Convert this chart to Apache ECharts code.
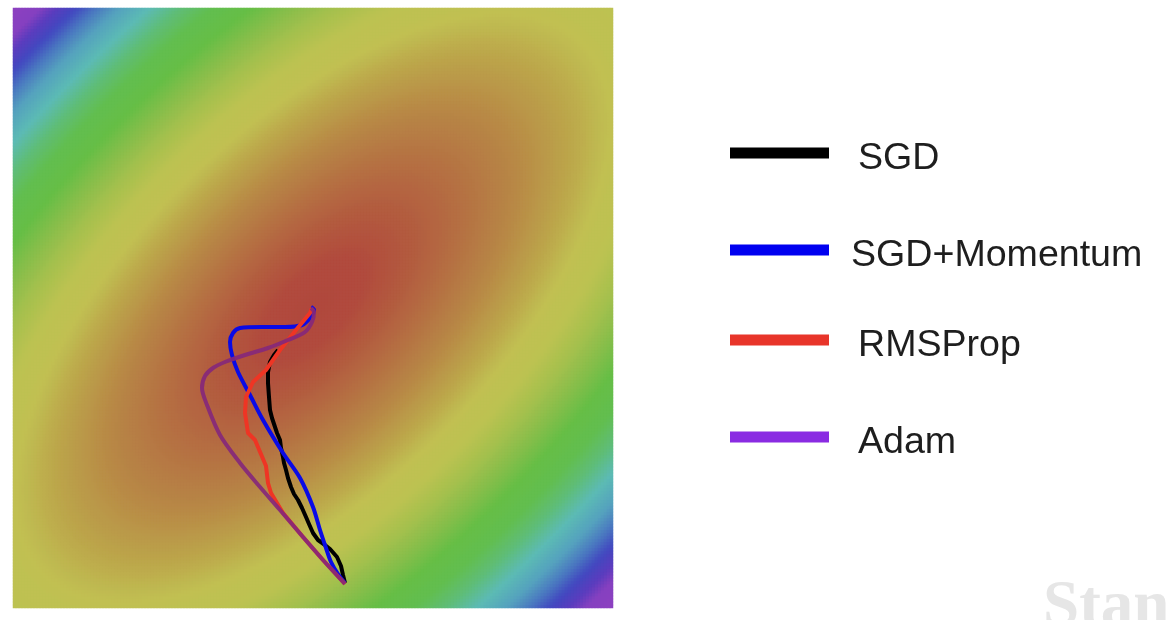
<!DOCTYPE html>
<html>
<head>
<meta charset="utf-8">
<script src="https://cdn.jsdelivr.net/npm/echarts@6/dist/echarts.min.js"></script>
<style>
html,body{margin:0;padding:0;background:#fff;}
#chart{width:1170px;height:620px;}
</style>
</head>
<body>
<div id="chart"></div>
<script>
// ---- data (plot units: 0..600 on both axes, y upward) ----
const seriesNames = ['SGD', 'SGD+Momentum', 'RMSProp', 'Adam'];

const sgdPath = [[332,25],[330,33],[328,42],[324,51],[317,59],[312,63],[305,68],[300,75],[296,84],[293,91],[289,100],[285,108],[281,114],[278,121],[275,130],[273,138],[271,145],[270,151],[268,160],[267,168],[264,175],[262,181],[259,190],[257,198],[256,211],[255,225],[255,236],[257,246],[261,253],[265,258]];

const momentumPath = [[332,25],[325,34],[318,46],[313,60],[307,78],[300,101],[287,130],[270,155],[250,188],[237,213],[225,236],[219,253],[217,266],[220,275],[227,280],[249,281],[272,281],[289,283],[297,290],[301,298],[298,301]];

const rmspropPath = [[332,24],[310,48],[290,71],[270,95],[258,115],[255,125],[253,142],[242,168],[235,175],[232,195],[233,211],[240,226],[253,238],[267,258],[283,278],[297,295],[299,300]];

const adamPath = [[332,24],[310,48],[290,71],[267,98],[247,121],[227,145],[207,173],[194,203],[189,220],[192,232],[200,240],[212,246],[232,253],[255,260],[275,268],[292,276],[299,286],[301,296],[298,300]];

// loss surface: minimum location and quadratic coefficients
const surfaceCenter = [300, 300];
const surfaceCoef = [1.0, -1.277, 1.02]; // a*dx^2 + b*dx*dy + c*dy^2
const surfaceCells = 200;

// colour scale of the surface (level -> colour)
const levelStops = [0, 40, 80, 120, 160, 200, 230, 260, 290, 320, 345, 375, 400, 425, 450, 470, 488, 505, 520, 600];
const levelColors = ['#b0473d','#b14b3e','#b35d3f','#b57343','#b88a46','#bca74b','#c1c052','#bcc251','#a4c04d','#84be4a','#66be46','#62be50','#5fbd78','#5cbbb4','#55a2be','#4a78c0','#4248c0','#5a3dbe','#8540c0','#a040c0'];

// ---- build ----
function hex(c){return [parseInt(c.slice(1,3),16),parseInt(c.slice(3,5),16),parseInt(c.slice(5,7),16)];}
function colorAt(v){
  for(let i=0;i<levelStops.length-1;i++){
    if(v<=levelStops[i+1]){
      const t=(v-levelStops[i])/(levelStops[i+1]-levelStops[i]);
      const a=hex(levelColors[i]), b=hex(levelColors[i+1]);
      return 'rgb('+a.map((x,k)=>Math.round(x+(b[k]-x)*t)).join(',')+')';
    }
  }
  return levelColors[levelColors.length-1];
}
const scaleColors=[];
for(let v=0;v<=600;v+=5) scaleColors.push(colorAt(v));

const cellIdx=[]; for(let i=0;i<surfaceCells;i++) cellIdx.push(i);
const surface=[];
const step=600/surfaceCells;
for(let i=0;i<surfaceCells;i++){
  for(let j=0;j<surfaceCells;j++){
    const dx=(i+0.5)*step-surfaceCenter[0];
    const dy=(j+0.5)*step-surfaceCenter[1];
    const f=surfaceCoef[0]*dx*dx+surfaceCoef[1]*dx*dy+surfaceCoef[2]*dy*dy;
    surface.push([i,j,Math.sqrt(Math.max(f,0))]);
  }
}

const lineColors = ['#000000','#0a0ae6','#ee3524','#86287a'];
const legendColors = ['#000000','#0000f0','#e8352a','#8a2be2'];
const paths = [sgdPath, momentumPath, rmspropPath, adamPath];
const legendTops = [140, 237, 327, 424];
const textPads = [24, 17, 24, 24];

const chart = echarts.init(document.getElementById('chart'));
chart.setOption({
  animation:false,
  backgroundColor:'#ffffff',
  grid:{left:13, top:8, width:600, height:600, containLabel:false},
  xAxis:[
    {type:'category', data:cellIdx, show:false, boundaryGap:true},
    {type:'value', min:0, max:600, show:false}
  ],
  yAxis:[
    {type:'category', data:cellIdx, show:false, boundaryGap:true},
    {type:'value', min:0, max:600, show:false}
  ],
  visualMap:{
    show:false, type:'continuous', min:0, max:600, seriesIndex:0, dimension:2,
    inRange:{color:scaleColors}
  },
  legend: seriesNames.map((n,i)=>({
    orient:'vertical', left:730, top:legendTops[i], padding:0,
    icon:'rect', itemWidth:99, itemHeight:11,
    data:[{name:n, itemStyle:{color:legendColors[i]}}],
    formatter: (name)=>'{t|'+name+'}',
    textStyle:{
      rich:{t:{fontSize:37.6, color:'#1e1e1e', fontFamily:'Liberation Sans, Arial, sans-serif', padding:[12,0,0,textPads[i]]}}
    },
    selectedMode:false
  })),
  graphic:[{
    type:'text', left:1043, top:576, silent:true,
    style:{text:'Stan', fontSize:65, fontWeight:'bold', fontFamily:'Liberation Serif, Times New Roman, serif', fill:'#e6e6e6'}
  }],
  series:[
    {type:'heatmap', xAxisIndex:0, yAxisIndex:0, data:surface, progressive:0, silent:true, emphasis:{disabled:true}},
    ...paths.map((p,i)=>({
      name:seriesNames[i], type:'line', xAxisIndex:1, yAxisIndex:1, data:p,
      showSymbol:false, symbol:'none', clip:false, silent:true,
      smooth: (i===1||i===3) ? 0.3 : false,
      color:legendColors[i],
      lineStyle:{color:lineColors[i], width:4, opacity: i===3?0.92:1, join:'round'},
      z:2+i
    }))
  ]
});
</script>
</body>
</html>
